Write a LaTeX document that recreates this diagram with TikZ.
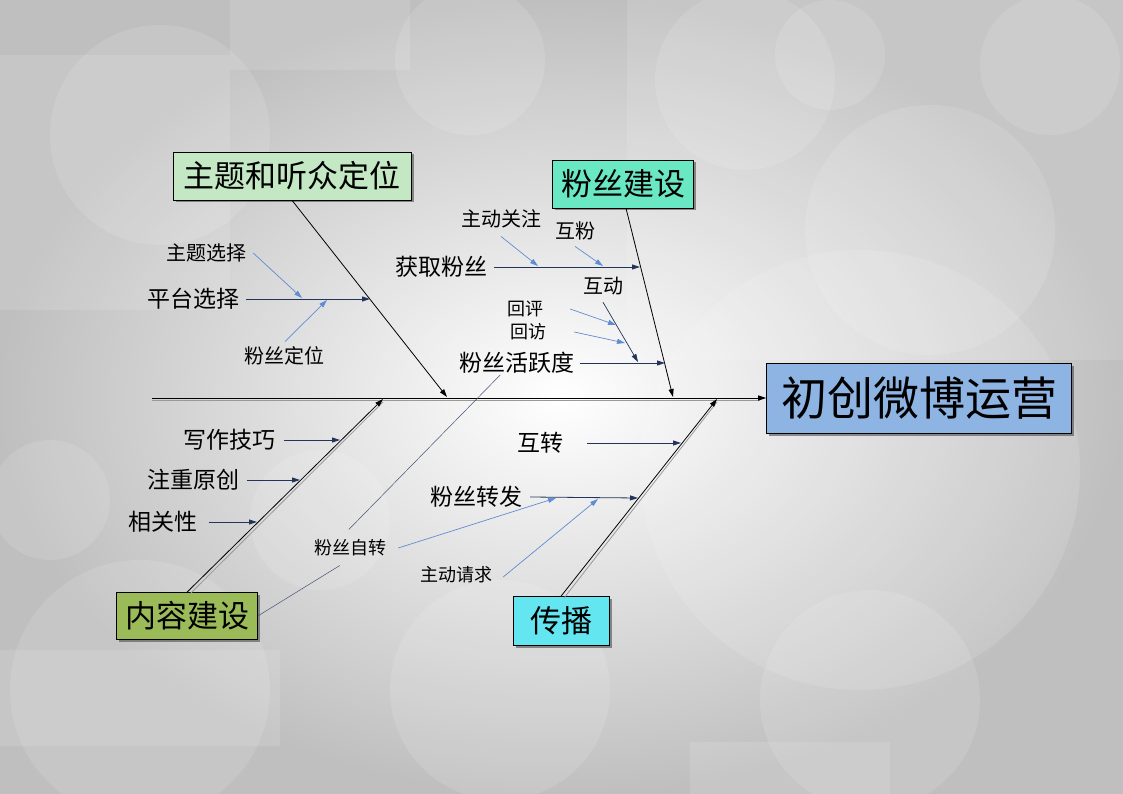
\documentclass[tikz,border=0pt]{standalone}
\usepackage{fontspec}
\setmainfont{Noto Sans CJK SC}
\usetikzlibrary{arrows.meta,shadows}
\definecolor{navy}{RGB}{35,52,90}
\definecolor{lblue}{RGB}{95,140,210}
\definecolor{cA}{RGB}{195,232,195}
\definecolor{cB}{RGB}{105,232,195}
\definecolor{cC}{RGB}{155,187,89}
\definecolor{cD}{RGB}{100,230,240}
\definecolor{cH}{RGB}{141,180,226}
\begin{document}
\begin{tikzpicture}[x=1pt,y=-1pt,
  box/.style={draw=black,line width=0.6pt,inner sep=0pt,minimum height=48pt,
    font=\fontsize{31}{31}\selectfont,
    drop shadow={shadow xshift=2.5pt,shadow yshift=-2.5pt,opacity=0.6,fill=black!70}},
  lbl/.style={inner ysep=0pt,inner xsep=7pt,font=\fontsize{23}{23}\selectfont},
  sml/.style={inner sep=0pt,font=\fontsize{18}{18}\selectfont},
  smb/.style={inner sep=0pt,font=\fontsize{20}{20}\selectfont},
  tip/.style={-{Triangle[length=8pt,width=5pt]}},
  bone/.style={tip,draw=black,line width=0.8pt},
  bshadow/.style={draw=gray!80,line width=0.8pt},
  subbone/.style={tip,draw=navy,line width=0.8pt},
  subsub/.style={tip,draw=lblue,line width=0.7pt},
  thinline/.style={draw=navy!85,line width=0.5pt},
  bg/.style={fill=white,opacity=0.12}]
\useasboundingbox (0,0) rectangle (1123,794);
% background
\shade[inner color=white,outer color=gray!50] (0,0) rectangle (1123,794);
\fill[bg] (230,0) rectangle (410,70);
\fill[bg] (0,55) rectangle (230,310);
\fill[bg] (627,0) rectangle (1123,360);
\fill[bg] (0,650) rectangle (280,746);
\fill[bg] (690,742) rectangle (890,794);
\fill[bg] (160,135) circle (110);
\fill[bg] (470,60) circle (75);
\fill[bg] (745,80) circle (90);
\fill[bg] (830,55) circle (55);
\fill[bg] (1050,65) circle (70);
\fill[bg] (930,230) circle (125);
\fill[bg] (860,470) circle (220);
\fill[bg] (140,690) circle (130);
\fill[bg] (50,500) circle (60);
\fill[bg] (500,690) circle (110);
\fill[bg] (870,700) circle (110);
\fill[bg] (320,520) circle (70);

% main boxes
\node[box,fill=cA,minimum width=238pt] (A) at (292,176) {主题和听众定位};
\node[box,fill=cB,minimum width=141pt] (B) at (623,184) {粉丝建设};
\node[box,fill=cC,minimum width=141pt,minimum height=47pt] (C) at (187,616) {内容建设};
\node[box,fill=cD,minimum width=96pt,minimum height=49pt] (D) at (561,621) {传播};
\node[box,fill=cH,minimum width=305pt,minimum height=70pt,font=\fontsize{46}{46}\selectfont] (H) at (919,398) {初创微博运营};

% spine and bones
\coordinate (s0) at (152,398);
\coordinate (a1) at (447,397);
\coordinate (b1) at (673,397);
\coordinate (c1) at (383,399);
\coordinate (d1) at (717,399);
\draw[bshadow] (152,400) -- (760,400);
\draw[bshadow] (190,594) -- (383,402);
\draw[bshadow] (564,598) -- (717,402);
\draw[bone] (s0) -- (H.west);
\draw[bone] (A.south) -- (a1);
\draw[bone] ([xshift=3pt]B.south) -- (b1);
\draw[bone] (C.north) -- (c1);
\draw[bone] (D.north) -- (d1);

% labels
\node[lbl] (pt) at (193,299) {平台选择};
\node[lbl] (hq) at (441,267) {获取粉丝};
\node[lbl] (hy) at (517,363) {粉丝活跃度};
\node[lbl] (xz) at (229,440) {写作技巧};
\node[lbl] (zc) at (193,480) {注重原创};
\node[lbl] (xg) at (163,522) {相关性};
\node[lbl] (hz) at (540,443) {互转};
\node[lbl] (zf) at (476,497) {粉丝转发};

\node[smb] (zt) at (206,253) {主题选择};
\node[smb] (fd) at (284,356) {粉丝定位};
\node[smb] (zg) at (501,219) {主动关注};
\node[smb] (hf) at (575,231) {互粉};
\node[smb] (hd) at (603,286) {互动};
\node[sml] (hp) at (525,309) {回评};
\node[sml] (hv) at (528,332) {回访};
\node[sml] (fz) at (350,548) {粉丝自转};
\node[sml] (zq) at (456,575) {主动请求};

% sub-bone end points
\coordinate (ptE) at (370,299);
\coordinate (hqE) at (640,267);
\coordinate (hyE) at (665,363);
\coordinate (xzE) at (340,440);
\coordinate (zcE) at (300,480);
\coordinate (xgE) at (257,522);
\coordinate (hzE) at (681,443);
\coordinate (zfE) at (638,498);

\draw[subbone] (pt.east) -- (ptE);
\draw[subbone] (hq.east) -- (hqE);
\draw[subbone] ([xshift=-2pt]hy.east) -- (hyE);
\draw[subbone] ([xshift=2pt]xz.east) -- (xzE);
\draw[subbone] ([xshift=1pt]zc.east) -- (zcE);
\draw[subbone] ([xshift=4pt]xg.east) -- (xgE);
\draw[subbone] ([xshift=17pt]hz.east) -- (hzE);
\draw[subbone] ([xshift=1pt]zf.east) -- (zfE);

% sub-sub causes
\coordinate (ztE) at (302,298);
\coordinate (fdE) at (327,300);
\coordinate (zgE) at (538,266);
\coordinate (hfE) at (603,266);
\coordinate (hdE) at (638,362);
\coordinate (hpE) at (616,325);
\coordinate (hvE) at (625,343);
\coordinate (fzE) at (556,498);
\coordinate (zqE) at (598,499);

\draw[subsub] ([xshift=7pt]zt.east) -- (ztE);
\draw[subsub] ([xshift=1pt,yshift=5pt]fd.north) -- (fdE);
\draw[subsub] ([yshift=-8pt]zg.south) -- (zgE);
\draw[subsub] ([yshift=-6pt]hf.south) -- (hfE);
\draw[subbone,line width=0.7pt] ([yshift=-7pt]hd.south) -- (hdE);
\draw[subsub] ([xshift=27pt]hp.east) -- (hpE);
\draw[subsub] ([xshift=28pt]hv.east) -- (hvE);
\draw[subsub] ([xshift=12pt]fz.east) -- (fzE);
\draw[subsub] ([xshift=11pt,yshift=-2pt]zq.east) -- (zqE);

% thin links through 粉丝自转
\draw[thinline] (C.east) -- ([xshift=26pt,yshift=-9pt]fz.south west);
\draw[thinline] ([xshift=35pt,yshift=10pt]fz.north west) -- ([xshift=48pt,yshift=-1pt]hy.south west);
\end{tikzpicture}
\end{document}
